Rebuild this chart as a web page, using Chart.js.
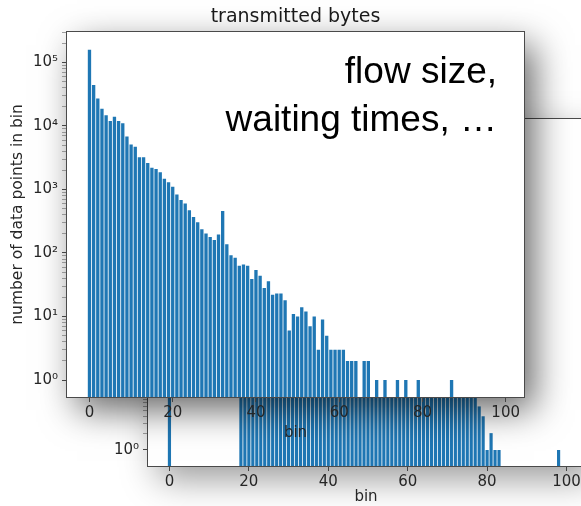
<!DOCTYPE html>
<html>
<head>
<meta charset="utf-8">
<script src="https://cdn.jsdelivr.net/npm/chart.js@4.4.1/dist/chart.umd.min.js"></script>
<style>
  html,body{margin:0;padding:0;background:#fff;overflow:hidden}
  #wrap{position:relative;width:581px;height:506px;overflow:hidden}
  canvas{position:absolute;left:0;top:0}
  #note{position:absolute;right:84px;top:47px;font:37px/48px "Liberation Sans",Arial,sans-serif;color:#000;text-align:right;white-space:nowrap}
</style>
</head>
<body>
<div id="wrap">
  <canvas id="back" width="600" height="506"></canvas>
  <canvas id="main" width="581" height="506"></canvas>
  <div id="note">flow size,<br>waiting times, …</div>
</div>
<script>
// bins (x categories), shared by both charts
const bins = [
  0,1,2,3,4,5,6,7,8,9,10,11,12,13,14,15,16,17,18,19,
  20,21,22,23,24,25,26,27,28,29,30,31,32,33,34,35,36,37,38,39,
  40,41,42,43,44,45,46,47,48,49,50,51,52,53,54,55,56,57,58,59,
  60,61,62,63,64,65,66,67,68,69,70,71,72,73,74,75,76,77,78,79,
  80,81,82,83,84,85,86,87,88,89,90,91,92,93,94,95,96,97,98,99]

// front chart: transmitted bytes, counts per bin
const bytesCounts = [
  158000,44000,27000,18600,14700,12000,14000,12000,11000,6800,
  5100,4700,3200,3200,2600,2200,2100,1860,1470,1300,
  1100,830,680,600,470,370,305,237,203,179,
  160,196,458,137,92,84,63,66,63,39,
  54,44,28,36,22,23,23,18,6,11,
  10,14,12,7,10,3,9,5,3,3,
  3,3,2,2,2,0,2,2,0,1,
  0,1,0,0,1,0,1,0,0,1,
  0,0,0,0,0,0,0,1,0,0,
  0,0,0,0,0,0,0,0,0,0]

// chart behind it (mostly hidden)
const backCounts = [
  90000,0,0,0,0,0,0,0,0,0,
  0,0,0,0,0,0,0,0,2400,2100,
  1800,1500,1300,1150,980,870,760,650,560,500,
  430,380,330,290,250,220,195,170,150,130,
  115,100,90,80,72,64,57,51,46,42,
  38,35,32,30,28,26,24,23,22,21,
  20,19,18,18,17,16,16,15,15,14,
  14,13,13,12,12,11,11,10,6,4,
  1,2,1,1,0,0,0,0,0,0,
  0,0,0,0,0,0,0,0,1,0]

const xTicks = [0,20,40,60,80,100]
const decades = [1,10,100,1000,10000,100000]
const decadeLabels = ['10⁰','10¹','10²','10³','10⁴','10⁵']

const BLUE = '#1f77b4'
const FONT = 'DejaVu Sans'
const INK = '#262626'

// white axes box with drop shadow + spines
const boxPlugin = {
  id: 'box',
  beforeDraw(chart, args, o){
    const {ctx, chartArea: a} = chart
    ctx.save()
    ctx.shadowColor = o.shadow
    ctx.shadowBlur = o.blur
    ctx.shadowOffsetX = o.dx
    ctx.shadowOffsetY = o.dy
    ctx.fillStyle = '#fff'
    ctx.fillRect(a.left, a.top, a.right - a.left, a.bottom - a.top)
    ctx.restore()
  },
  afterDatasetsDraw(chart){
    const {ctx, chartArea: a} = chart
    ctx.save()
    ctx.strokeStyle = '#4a4a4a'
    ctx.lineWidth = 1
    ctx.strokeRect(Math.round(a.left) - 0.5, Math.round(a.top) - 0.5,
      Math.round(a.right - a.left) + 1, Math.round(a.bottom - a.top) + 1)
    ctx.restore()
  }
}

function logTicks(min, max){
  const out = []
  decades.forEach(d => {
    for(let m = 1; m < 10; m++){
      const v = d * m
      if(v >= min && v <= max) out.push({value: v, major: m === 1})
    }
  })
  return out
}

function points(counts){
  return bins.map((b, i) => ({x: b, y: counts[i] > 0 ? counts[i] : null}))
}

function makeChart(id, counts, cfg){
  return new Chart(document.getElementById(id), {
    type: 'bar',
    data: {datasets: [{data: points(counts), backgroundColor: BLUE,
      categoryPercentage: 1, barPercentage: 0.8}]},
    plugins: [boxPlugin],
    options: {
      responsive: false, animation: false,
      layout: {padding: cfg.pad},
      plugins: {
        legend: {display: false}, tooltip: {enabled: false},
        title: cfg.title,
        box: {shadow: cfg.shadow, blur: cfg.blur, dx: 10, dy: 13}
      },
      scales: {
        x: {
          type: 'linear', min: -5.4, max: 104.4, offset: false,
          afterBuildTicks: s => { s.ticks = xTicks.map(v => ({value: v})) },
          afterFit: s => { s.height = cfg.xh },
          border: {display: false},
          grid: {offset: false, drawOnChartArea: false, tickLength: 5, color: '#444'},
          ticks: {padding: 2, color: INK, font: {family: FONT, size: 15}, callback: v => String(v)},
          title: {display: true, text: 'bin', color: INK, font: {family: FONT, size: 15}, padding: {top: 0, bottom: 0}}
        },
        y: {
          type: 'logarithmic', min: cfg.ymin, max: cfg.ymax,
          afterBuildTicks: s => { s.ticks = logTicks(cfg.ymin, cfg.ymax) },
          afterFit: s => { s.width = cfg.yw },
          border: {display: false},
          grid: {drawOnChartArea: false, tickLength: 5,
            tickColor: c => c.tick && c.tick.major ? '#444' : '#777',
            tickWidth: c => c.tick && c.tick.major ? 1 : 0.7},
          ticks: {autoSkip: false, padding: 4, color: INK, font: {family: FONT, size: 15},
            callback: v => { const k = decades.indexOf(v); return k < 0 ? '' : decadeLabels[k] }},
          title: {display: cfg.ylabel !== '', text: cfg.ylabel, color: INK,
            font: {family: FONT, size: 15.5}, padding: {top: 9, bottom: 0}}
        }
      }
    }
  })
}

makeChart('back', backCounts, {
  pad: {left: 100, top: 119, right: 16, bottom: 0},
  title: {display: false},
  shadow: 'rgba(0,0,0,0.4)', blur: 34,
  xh: 40, yw: 48, ymin: 0.518, ymax: 810000, ylabel: ''
})

makeChart('main', bytesCounts, {
  pad: {left: 0, top: 1, right: 57, bottom: 64},
  title: {display: true, text: 'transmitted bytes', fullSize: false, color: '#1a1a1a',
    font: {family: FONT, size: 19, weight: 'normal'}, padding: {top: 5, bottom: 3}},
  shadow: 'rgba(0,0,0,0.6)', blur: 34,
  xh: 45, yw: 67, ymin: 0.541, ymax: 303000, ylabel: 'number of data points in bin'
})
</script>
</body>
</html>
